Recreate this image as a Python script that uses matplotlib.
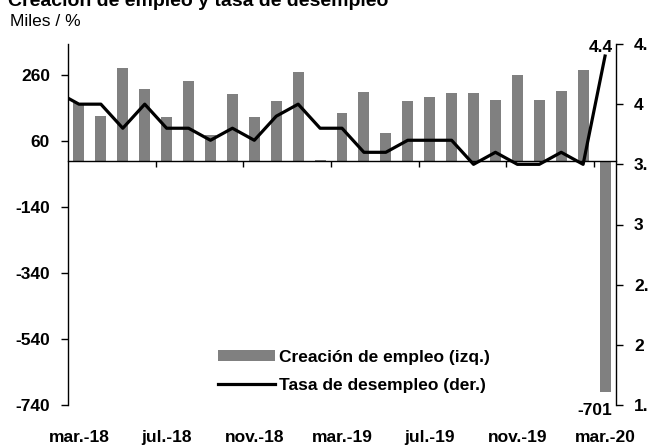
import matplotlib
matplotlib.use("Agg")
import matplotlib.pyplot as plt
import matplotlib.transforms as mtransforms
import numpy as np

# datos: meses mar.-18 a mar.-20
etiquetas_x = ["mar.-18", "jul.-18", "nov.-18", "mar.-19", "jul.-19", "nov.-19", "mar.-20"]
empleo = [176, 136, 280, 219, 134, 242, 79, 201, 133, 182, 270, 1, 145,
          209, 85, 182, 194, 206, 207, 184, 261, 183, 213, 276, -701]
# tasa de desempleo, empieza en feb.-18 (queda recortado en el borde)
desempleo = [4.1, 4.0, 4.0, 3.8, 4.0, 3.8, 3.8, 3.7, 3.8, 3.7, 3.9, 4.0, 3.8,
             3.8, 3.6, 3.6, 3.7, 3.7, 3.7, 3.5, 3.6, 3.5, 3.5, 3.6, 3.5, 4.4]
ticks_izq = [260, 60, -140, -340, -540, -740]
ticks_der = [4.5, 4.0, 3.5, 3.0, 2.5, 2.0, 1.5]
etiquetas_der = ["4.", "4", "3.", "3", "2.", "2", "1."]

plt.rcParams["font.family"] = ["Liberation Sans Narrow", "Liberation Sans", "DejaVu Sans"]

GRIS = "#808080"
fs = 12.5

fig = plt.figure(figsize=(6.5, 4.45), dpi=100)
ax = fig.add_axes([68 / 650, 1 - 405 / 445, (616 - 68) / 650, (405 - 44) / 445])
ax2 = ax.twinx()

x = np.arange(len(empleo))
ax.bar(x, empleo, width=0.5, color=GRIS, label="Creación de empleo (izq.)")
ax2.plot(np.arange(-1, len(empleo)), desempleo, color="black", lw=2.3,
         label="Tasa de desempleo (der.)")

ax.set_xlim(-0.5, len(empleo) - 0.5)
ax.set_ylim(-740, 354)
ax2.set_ylim(1.5, 4.5)

# ejes
for s in ["top", "right"]:
    ax.spines[s].set_visible(False)
for s in ["top", "left", "bottom"]:
    ax2.spines[s].set_visible(False)
ax.spines["bottom"].set_position(("data", 0))
for a in (ax, ax2):
    for s in a.spines.values():
        s.set_linewidth(1.0)

ax.set_yticks(ticks_izq)
ax.set_yticklabels([str(t) for t in ticks_izq], fontsize=fs, fontweight="bold")
ax.tick_params(axis="y", direction="out", length=5, width=1, pad=8)

ax2.set_yticks(ticks_der)
ax2.set_yticklabels(etiquetas_der, fontsize=fs, fontweight="bold")
ax2.tick_params(axis="y", direction="out", length=5, width=1, pad=8)

ax.set_xticks(np.arange(3.5, len(empleo) - 1, 4))
ax.tick_params(axis="x", direction="out", length=4, width=1, labelbottom=False)

trans = mtransforms.blended_transform_factory(ax.transData, ax.transAxes)
for i, lab in enumerate(etiquetas_x):
    ax.text(i * 4, -0.089, lab, transform=trans, ha="center", va="center",
            fontsize=fs, fontweight="bold")

# etiquetas de valores
ax.annotate(str(empleo[-1]), xy=(x[-1] + 0.33, empleo[-1]), xytext=(0, -8),
            textcoords="offset points", ha="right", va="top",
            fontsize=fs, fontweight="bold", annotation_clip=False)
ax2.annotate("{:.1f}".format(desempleo[-1]), xy=(x[-1] + 0.36, desempleo[-1]),
             xytext=(0, 1), textcoords="offset points", ha="right", va="bottom",
             fontsize=fs, fontweight="bold", annotation_clip=False)

# leyenda
h1, l1 = ax.get_legend_handles_labels()
h2, l2 = ax2.get_legend_handles_labels()
leg = ax2.legend(h1 + h2, l1 + l2, loc="upper left", bbox_to_anchor=(202 / 650, 1 - 334 / 445),
                 bbox_transform=fig.transFigure, frameon=False, fontsize=fs,
                 handlelength=3.3, handleheight=0.6, handletextpad=0.25, labelspacing=0.75)
for t in leg.get_texts():
    t.set_fontweight("bold")

# titulos
fig.text(0.012, 1 - 6 / 445, "Creación de empleo y tasa de desempleo", ha="left",
         va="baseline", fontsize=14, fontweight="bold")
fig.text(0.015, 1 - 22 / 445, "Miles / %", ha="left", va="center", fontsize=12.5)

fig.savefig("out.png", dpi=100)
